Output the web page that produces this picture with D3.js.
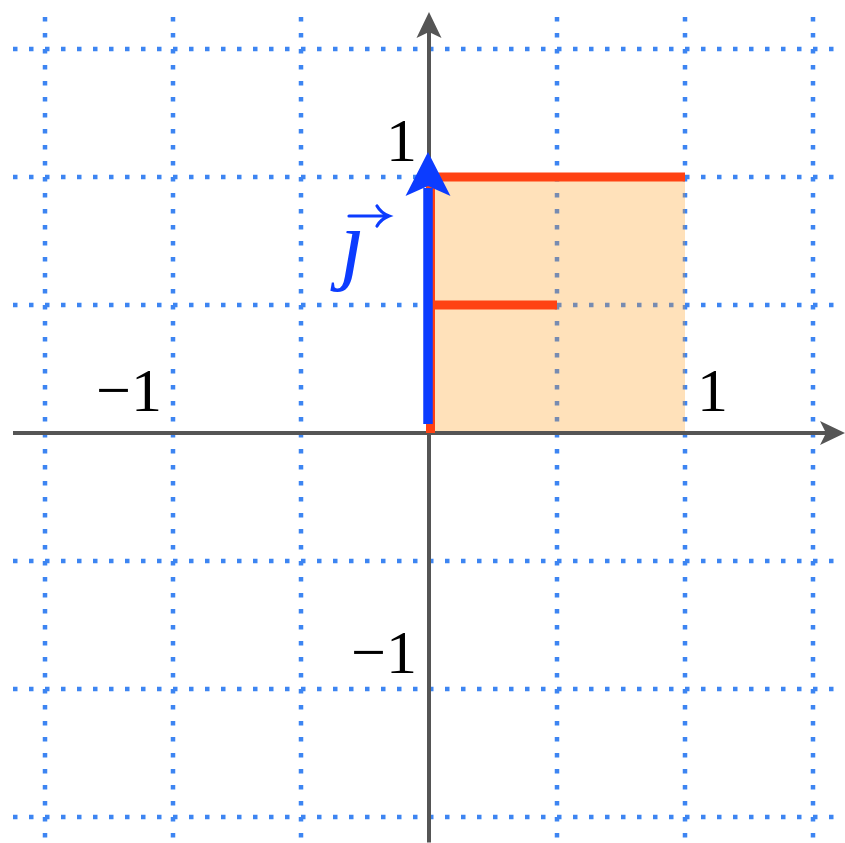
<!DOCTYPE html>
<html>
<head>
<meta charset="utf-8">
<script src="https://cdn.jsdelivr.net/npm/d3@7"></script>
<style>
  body { margin: 0; background: #fff; }
  svg { display: block; }
</style>
</head>
<body>
<div id="chart"></div>
<script>
// grid and axis extents (data units, 1 unit = 2 grid cells)
var gridTicks = [-1.5, -1, -0.5, 0, 0.5, 1, 1.5]
var extent = [-1.625, 1.625]
var yExtent = [-1.6, 1.645]
// unit square transformed by the matrix (shaded)
var squareCorners = [[0, 0], [1, 0], [1, 1], [0, 1]]
// the "F" shape drawn in red
var fSegments = [
    [[0, 0], [0, 1]],
    [[0, 1], [1, 1]],
    [[0, 0.5], [0.5, 0.5]]
]
// basis vector j
var vectorJ = [0, 1]
// tick labels
var xLabels = [{v: -1, text: "\u22121"}, {v: 1, text: "1"}]
var yLabels = [{v: 1, text: "1"}, {v: -1, text: "\u22121"}]

var width = 845, height = 843
var svg = d3.select('#chart').append('svg')
    .attr('width', width)
    .attr('height', height)

var xScale = d3.scaleLinear().domain([0, 1]).range([429, 685])
var yScale = d3.scaleLinear().domain([0, 1]).range([433, 177])

var gridColor = "#3d85f2"
var axisColor = "#555555"
var red = "#ff4213"
var blue = "#0c3cff"

// dotted grid
var grid = svg.append('g')
gridTicks.forEach(function(t) {
    if (t === 0) return
    grid.append('line')
        .attr('x1', xScale(t)).attr('x2', xScale(t))
        .attr('y1', yScale(extent[1])).attr('y2', yScale(extent[0]))
        .attr('stroke', gridColor)
        .attr('stroke-width', 4.5)
        .attr('stroke-dasharray', '4.5,11.5')
    grid.append('line')
        .attr('y1', yScale(t)).attr('y2', yScale(t))
        .attr('x1', xScale(extent[0])).attr('x2', xScale(extent[1]))
        .attr('stroke', gridColor)
        .attr('stroke-width', 4.5)
        .attr('stroke-dasharray', '4.5,11.5')
})

// shaded square
svg.append('path')
    .attr('d', d3.line().x(function(d) { return xScale(d[0]) }).y(function(d) { return yScale(d[1]) })(squareCorners) + 'Z')
    .attr('fill', '#ff9a1a')
    .attr('fill-opacity', 0.3)

// axes with arrow heads
svg.append('line')
    .attr('x1', xScale(extent[0])).attr('x2', xScale(extent[1]) - 10)
    .attr('y1', yScale(0)).attr('y2', yScale(0))
    .attr('stroke', axisColor).attr('stroke-width', 4)
svg.append('line')
    .attr('x1', xScale(0)).attr('x2', xScale(0))
    .attr('y1', yScale(yExtent[0])).attr('y2', yScale(yExtent[1]) + 10)
    .attr('stroke', axisColor).attr('stroke-width', 4)

function stealth(tipX, tipY, angle, len, half, notch, color) {
    // arrow head pointing in direction angle (radians), tip at (tipX, tipY)
    var ca = Math.cos(angle), sa = Math.sin(angle)
    function pt(back, side) {
        return [tipX - back * ca - side * sa, tipY - back * sa + side * ca]
    }
    var pts = [pt(0, 0), pt(len, half), pt(len - notch, 0), pt(len, -half)]
    svg.append('path')
        .attr('d', 'M' + pts.map(function(p) { return p.join(',') }).join('L') + 'Z')
        .attr('fill', color)
}
stealth(xScale(extent[1]), yScale(0), 0, 25, 12, 6, axisColor)
stealth(xScale(0), yScale(yExtent[1]), -Math.PI / 2, 26, 12.5, 6, axisColor)

// red F
fSegments.forEach(function(s, i) {
    svg.append('line')
        .attr('x1', xScale(s[0][0]) + (i === 0 ? 1.5 : 0))
        .attr('y1', yScale(s[0][1]))
        .attr('x2', xScale(s[1][0]) + (i === 0 ? 1.5 : 0))
        .attr('y2', yScale(s[1][1]))
        .attr('stroke', red)
        .attr('stroke-width', 9)
})

// vector j
var vx = xScale(vectorJ[0]) - 1, vy0 = yScale(0) - 9
var tipY = yScale(vectorJ[1]) - 25
svg.append('line')
    .attr('x1', vx).attr('x2', vx)
    .attr('y1', vy0).attr('y2', tipY + 36)
    .attr('stroke', blue).attr('stroke-width', 9.5)
stealth(vx, tipY, -Math.PI / 2, 44, 22.5, 10, blue)

// tick labels
var font = "'Liberation Serif', 'Times New Roman', serif"
svg.selectAll('text.xl').data(xLabels).enter().append('text')
    .attr('class', 'xl')
    .attr('x', function(d) { return d.v < 0 ? xScale(d.v) - 11 : xScale(d.v) + 12 })
    .attr('y', yScale(0) - 22)
    .attr('text-anchor', function(d) { return d.v < 0 ? 'end' : 'start' })
    .attr('font-family', font)
    .attr('font-size', 62)
    .attr('fill', '#000')
    .text(function(d) { return d.text })
svg.selectAll('text.yl').data(yLabels).enter().append('text')
    .attr('class', 'yl')
    .attr('x', xScale(0) - 12)
    .attr('y', function(d) { return yScale(d.v) - 16 })
    .attr('text-anchor', 'end')
    .attr('font-family', font)
    .attr('font-size', 62)
    .attr('fill', '#000')
    .text(function(d) { return d.text })

// vector label: italic j with its dot clipped away, vec arrow drawn above
svg.append('clipPath').attr('id', 'noDot')
    .append('rect').attr('x', 300).attr('y', 229).attr('width', 100).attr('height', 80)
svg.append('text')
    .attr('x', 340).attr('y', 273)
    .attr('clip-path', 'url(#noDot)')
    .attr('font-family', font)
    .attr('font-style', 'italic')
    .attr('font-size', 90)
    .attr('fill', blue)
    .text('j')
svg.append('path')
    .attr('d', 'M349,216H388M377,206Q381,213 389,216Q381,219 377,226')
    .attr('fill', 'none')
    .attr('stroke', blue)
    .attr('stroke-width', 3.2)
    .attr('stroke-linecap', 'round')
</script>
</body>
</html>
